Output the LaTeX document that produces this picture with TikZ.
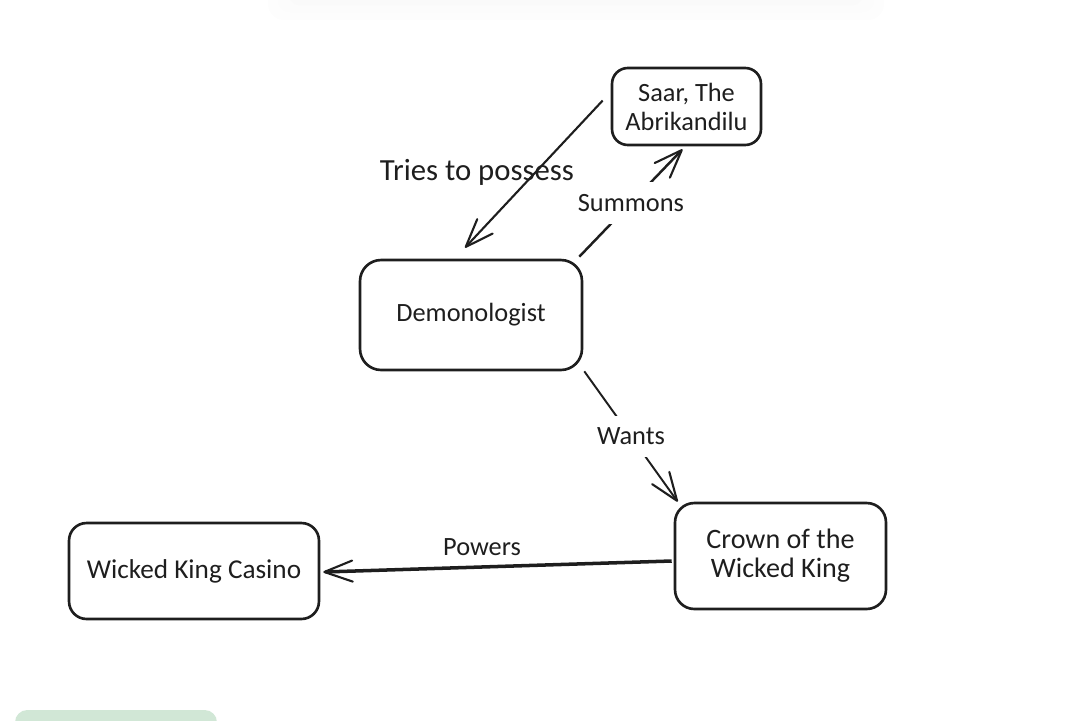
\documentclass[tikz,border=0pt]{standalone}
\usepackage{fontspec}
\setmainfont{Carlito}
\usetikzlibrary{arrows.meta}
\definecolor{inkline}{HTML}{1E1E1E}
\definecolor{tabgreen}{HTML}{D1E7D6}
\tikzset{
	boxnode/.style={draw=inkline,line width=1.5pt,align=center,text=inkline,font=\fontsize{15}{16.5}\selectfont,inner sep=0pt},
	linknode/.style={text=inkline,font=\fontsize{15}{16.5}\selectfont,inner sep=0pt},
	linkarrow/.style={draw=inkline,-{Straight Barb[length=16pt,width=12pt,line width=1.2pt,round]}}
}
\begin{document}
\begin{tikzpicture}[x=0.02cm,y=-0.02cm]
	\useasboundingbox (0,0) rectangle (1074,720);
	\clip (0,0) rectangle (1074,720);
	\fill[black!0.6,rounded corners=9pt] (268,-20) rectangle (884,20);
	\fill[black!1.2,rounded corners=7pt] (278,-20) rectangle (874,12);
	\fill[black!2,rounded corners=5pt] (290,-20) rectangle (862,5);
	\fill[tabgreen,rounded corners=7pt] (15,710) rectangle (217,740);
	\node[boxnode,rounded corners=9pt,minimum width=2.98cm,minimum height=1.54cm] (saar) at (686.5,106.5) {Saar, The\\Abrikandilu};
	\node[boxnode,rounded corners=12pt,minimum width=4.44cm,minimum height=2.2cm] (demon) at (471,315) {Demonologist};
	\node[boxnode,rounded corners=11pt,minimum width=4.22cm,minimum height=2.12cm,font=\fontsize{16}{16.5}\selectfont] (crown) at (780.5,556) {Crown of the\\Wicked King};
	\node[boxnode,rounded corners=10pt,minimum width=5cm,minimum height=1.92cm,font=\fontsize{15.5}{16.5}\selectfont] (casino) at (194,571) {Wicked King Casino};
	\draw[linkarrow,line width=1.2pt] ([shift={(-8,-6)}]saar.west)--([shift={(-6,-11)}]demon.north);
	\node[linknode,font=\fontsize{17.5}{19}\selectfont] (possess) at (477,172) {Tries to possess};
	\draw[linkarrow,line width=1.4pt] ([shift={(-4,-2)}]demon.north east)--node[linknode,fill=white,inner xsep=2pt,inner ysep=7pt]{Summons} ([shift={(-4,3)}]saar.south);
	\draw[linkarrow,line width=1.1pt] ([shift={(1,0)}]demon.south east)--node[linknode,fill=white,inner xsep=3pt,inner ysep=7pt]{Wants} ([shift={(4,0)}]crown.north west);
	\draw[linkarrow,line width=2pt] ([shift={(-2,5)}]crown.west)--([shift={(3,1)}]casino.east);
	\node[linknode] (powers) at (482,547) {Powers};
\end{tikzpicture}
\end{document}
